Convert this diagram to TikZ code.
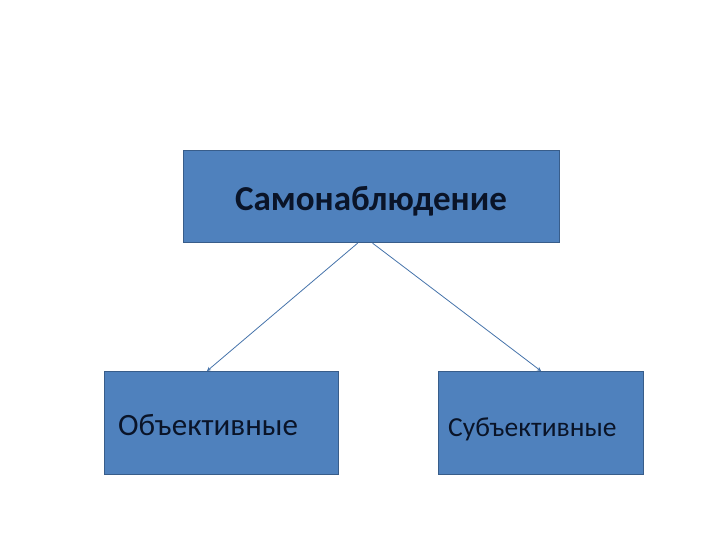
\documentclass[tikz,border=0pt]{standalone}
\usepackage{fontspec}
\setmainfont{Carlito}
\usetikzlibrary{arrows.meta}
\definecolor{boxfill}{HTML}{4F81BD}
\definecolor{boxline}{HTML}{385D8A}
\definecolor{linkcol}{HTML}{4573AA}
\definecolor{txt}{HTML}{0A1428}
\begin{document}
\begin{tikzpicture}[x=1pt,y=-1pt,
  box/.style={draw=boxline,line width=1.2pt,fill=boxfill,inner sep=0pt,anchor=north west},
  lbl/.style={text=txt,inner sep=0pt},
  link/.style={draw=linkcol,line width=0.8pt,-{Stealth[length=4pt,width=4pt]}}]
\useasboundingbox (0,0) rectangle (720,540);
\node[box,minimum width=376pt,minimum height=92pt] (top) at (183,150) {};
\node[box,minimum width=234pt,minimum height=103pt] (left) at (104,371) {};
\node[box,minimum width=205pt,minimum height=103pt] (right) at (438,371) {};
\node[lbl,font=\fontsize{35}{40}\selectfont\bfseries] (tt) at (371,201) {Самонаблюдение};
\node[lbl,anchor=west,font=\fontsize{31}{36}\selectfont] (lt) at (118,425) {Объективные};
\node[lbl,anchor=west,font=\fontsize{27.5}{32}\selectfont] (rt) at (448,429) {Субъективные};
\coordinate (s1) at ([xshift=-14pt]top.south);
\coordinate (s2) at ([xshift=1pt]top.south);
\coordinate (e1) at (left.north -| 207,0);
\coordinate (e2) at (right.north -| 541,0);
\draw[link] (s1) -- (e1);
\draw[link] (s2) -- (e2);
\end{tikzpicture}
\end{document}
